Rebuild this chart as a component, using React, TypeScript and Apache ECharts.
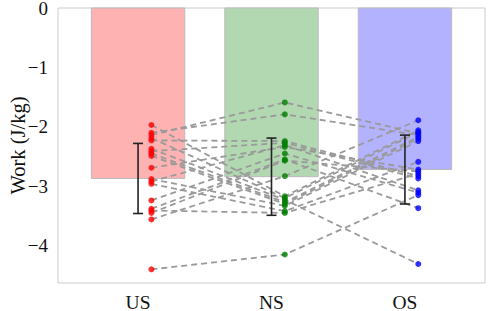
import React, { useEffect, useRef } from "react";
import * as echarts from "echarts";

const categories = ["US", "NS", "OS"];
const barMeans = [-2.87, -2.84, -2.72];
const barSD = [0.59, 0.65, 0.58];
const yTicks = [0, -1, -2, -3, -4];

const usValues = [-1.97, -2.10, -2.14, -2.19, -2.23, -2.37, -2.41, -2.45, -2.49, -2.69, -2.88, -2.92, -2.96, -3.24, -3.38, -3.41, -3.45, -3.56, -4.40];
const nsValues = [-3.17, -1.79, -1.59, -3.20, -2.24, -3.23, -2.27, -3.27, -3.30, -2.34, -3.33, -2.31, -3.42, -2.45, -2.55, -3.45, -2.57, -2.83, -4.15];
const osValues = [-2.06, -2.14, -2.11, -2.09, -2.83, -4.31, -2.87, -2.17, -2.20, -2.72, -2.24, -3.07, -2.59, -3.11, -3.37, -2.79, -2.75, -1.89, -3.15];

const barColors = ["#ffb2b2", "#b2d8b2", "#b2b2ff"];
const pointColors = ["#ff0000", "#008000", "#0000ff"];
const FONT = "'Liberation Serif', 'DejaVu Serif', serif";
const OFFSET = 0.1;

export default function App() {
  const ref = useRef<HTMLDivElement>(null);
  useEffect(() => {
    if (!ref.current) return;
    const chart = echarts.init(ref.current, null, { renderer: "svg" });
    const groups = [usValues, nsValues, osValues];

    const lineSeries = usValues.map((_, s) => ({
      type: "line",
      data: groups.map((g, i) => [i + OFFSET, g[s]]),
      symbol: "none",
      silent: true,
      z: 3,
      lineStyle: { color: "#9a9a9a", width: 1.8, type: [6, 4] },
    }));

    const scatterSeries = groups.map((g, i) => ({
      type: "scatter",
      data: g.map((v) => [i + OFFSET, v]),
      symbolSize: 6,
      z: 5,
      itemStyle: { color: pointColors[i] },
    }));

    chart.setOption({
      animation: false,
      grid: {
        left: 58,
        top: 8,
        right: 4,
        bottom: 28,
        containLabel: false,
        outerBoundsMode: "none",
        show: true,
        borderColor: "#cccccc",
        borderWidth: 1,
        backgroundColor: "transparent",
      },
      xAxis: {
        type: "value",
        min: -0.6,
        max: 2.6,
        axisLine: { show: false },
        axisTick: { show: false },
        splitLine: { show: false },
        axisLabel: {
          customValues: [0, 1, 2],
          formatter: (v: number) => categories[Math.round(v)] ?? "",
          fontFamily: FONT,
          fontSize: 19.5,
          color: "#111",
          margin: 9,
        },
      },
      yAxis: {
        type: "value",
        min: -4.63,
        max: 0,
        name: "Work (J/kg)",
        nameLocation: "middle",
        nameGap: 30,
        nameMoveOverlap: false,
        nameTextStyle: { fontFamily: FONT, fontSize: 20.5, color: "#111" },
        axisLine: { show: false },
        axisTick: { show: false },
        splitLine: { show: false },
        axisLabel: {
          customValues: yTicks,
          formatter: (v: number) => String(v).replace("-", "\u2212"),
          fontFamily: FONT,
          fontSize: 19,
          lineHeight: 14,
          padding: [4, 0, 0, 0],
          color: "#111",
          margin: 10,
        },
      },
      series: [
        {
          type: "custom",
          z: 1,
          silent: true,
          data: barMeans.map((m, i) => [i, m]),
          renderItem: (params: any, api: any) => {
            const i = api.value(0);
            const m = api.value(1);
            const p0 = api.coord([i - 0.35, 0]);
            const p1 = api.coord([i + 0.35, m]);
            return {
              type: "rect",
              shape: { x: p0[0], y: p0[1], width: p1[0] - p0[0], height: p1[1] - p0[1] },
              style: { fill: barColors[params.dataIndex], stroke: "#bbbbbb", lineWidth: 1 },
            };
          },
        },
        ...lineSeries,
        {
          type: "custom",
          z: 4,
          silent: true,
          data: barMeans.map((m, i) => [i, m, barSD[i]]),
          renderItem: (params: any, api: any) => {
            const i = api.value(0);
            const m = api.value(1);
            const sd = api.value(2);
            const top = api.coord([i, m + sd]);
            const bot = api.coord([i, m - sd]);
            const hw = 5;
            const st = { stroke: "#222222", lineWidth: 1.6 };
            return {
              type: "group",
              children: [
                { type: "line", shape: { x1: top[0], y1: top[1], x2: bot[0], y2: bot[1] }, style: st },
                { type: "line", shape: { x1: top[0] - hw, y1: top[1], x2: top[0] + hw, y2: top[1] }, style: st },
                { type: "line", shape: { x1: bot[0] - hw, y1: bot[1], x2: bot[0] + hw, y2: bot[1] }, style: st },
              ],
            };
          },
        },
        ...scatterSeries,
      ],
    });
    return () => chart.dispose();
  }, []);
  return <div ref={ref} style={{ width: 489, height: 311, position: "absolute", left: 0, top: 0 }} />;
}
